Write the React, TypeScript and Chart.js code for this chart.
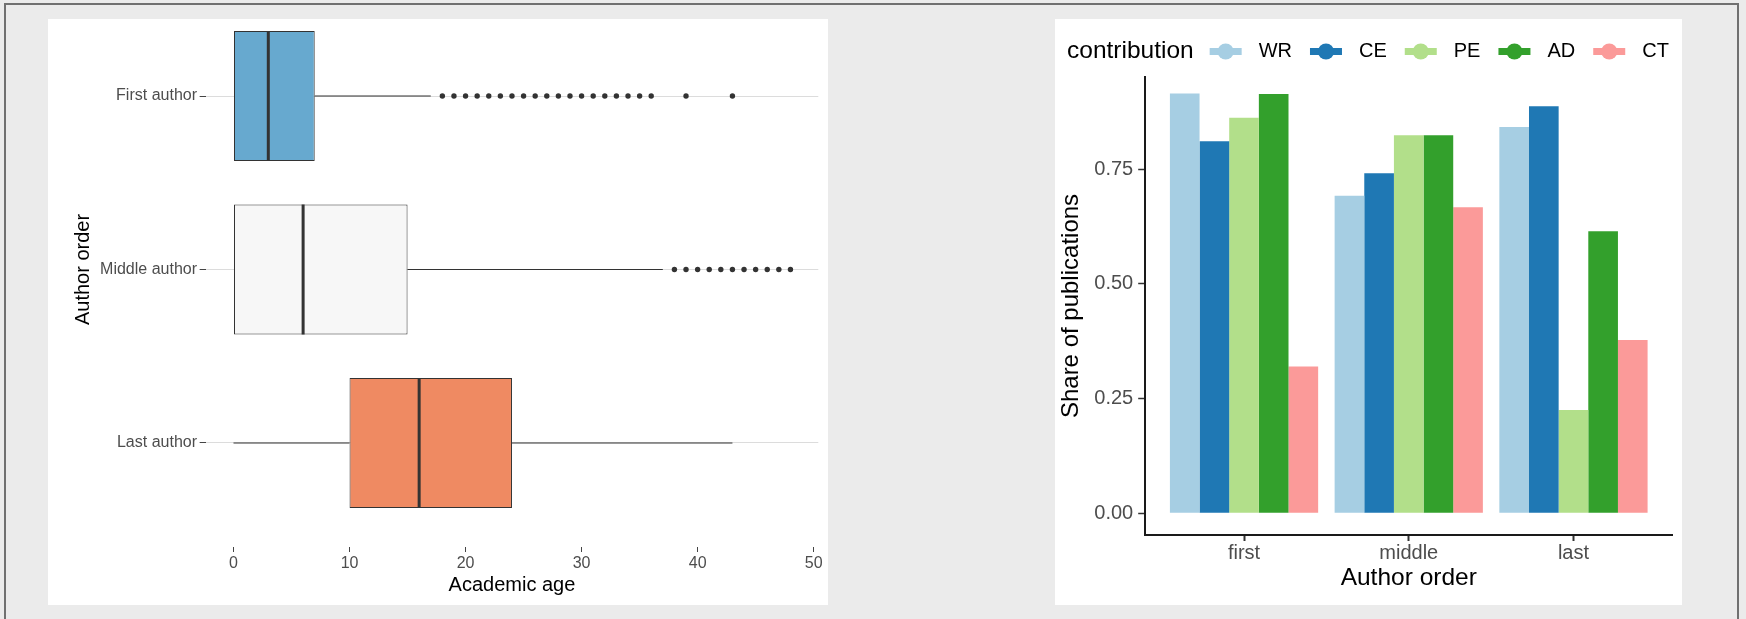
import React, { useEffect, useRef } from 'react';
import { Chart, registerables } from 'chart.js';

Chart.register(...registerables);

const FONT = '"Liberation Sans", Arial, Helvetica, sans-serif';

// ---------- Left chart: academic age by author order (box plot) ----------
const authorOrders = ['First author', 'Middle author', 'Last author'];
const boxQ1 = [0, 0, 10];
const boxMedian = [3, 6, 16];
const boxQ3 = [7, 15, 24];
const whiskerLow = [0, 0, 0];
const whiskerHigh = [17, 37, 43];
const outliersFirst = [18, 19, 20, 21, 22, 23, 24, 25, 26, 27, 28, 29, 30, 31, 32, 33, 34, 35, 36, 39, 43];
const outliersMiddle = [38, 39, 40, 41, 42, 43, 44, 45, 46, 47, 48];
const outliersLast: number[] = [];
const ageTicks = [0, 10, 20, 30, 40, 50];

// ---------- Right chart: share of publications by contribution ----------
const orderCategories = ['first', 'middle', 'last'];
const contributionKeys = ['WR', 'CE', 'PE', 'AD', 'CT'];
const shareWR = [0.915, 0.692, 0.842];
const shareCE = [0.811, 0.741, 0.887];
const sharePE = [0.862, 0.824, 0.225];
const shareAD = [0.914, 0.824, 0.615];
const shareCT = [0.32, 0.667, 0.378];
const shareTicks = [0, 0.25, 0.5, 0.75];

const boxColors = ['#67a9cf', '#f7f7f7', '#ef8a62'];
const contributionColors = ['#a6cee3', '#1f78b4', '#b2df8a', '#33a02c', '#fb9a99'];

function leftConfig(): any {
  const pos = authorOrders.map((_, i) => i + 1);
  const whiskerData: any[] = [];
  pos.forEach((y, i) => {
    if (whiskerLow[i] < boxQ1[i]) {
      whiskerData.push({ x: whiskerLow[i], y }, { x: boxQ1[i], y }, { x: null, y: null });
    }
    if (whiskerHigh[i] > boxQ3[i]) {
      whiskerData.push({ x: boxQ3[i], y }, { x: whiskerHigh[i], y }, { x: null, y: null });
    }
  });
  const outlierSets = [outliersFirst, outliersMiddle, outliersLast];
  const outlierData: any[] = [];
  outlierSets.forEach((arr, i) => arr.forEach((x) => outlierData.push({ x, y: pos[i] })));

  const yTitlePlugin = {
    id: 'leftYTitle',
    afterDraw(chart: any) {
      const ctx = chart.ctx;
      const ys = chart.scales.y;
      const cy = (ys.getPixelForValue(0.4) + ys.getPixelForValue(3.6)) / 2;
      ctx.save();
      ctx.font = `20px ${FONT}`;
      ctx.fillStyle = '#000000';
      ctx.textAlign = 'center';
      ctx.textBaseline = 'middle';
      ctx.translate(35, cy);
      ctx.rotate(-Math.PI / 2);
      ctx.fillText('Author order', 0, 0);
      ctx.restore();
    },
  };

  return {
    type: 'bar',
    data: {
      datasets: [
        {
          type: 'scatter',
          label: 'median',
          data: pos.map((y, i) => ({ x: boxMedian[i], y })),
          pointStyle: 'line',
          pointRotation: 90,
          pointRadius: 65,
          pointBorderWidth: 3,
          pointBorderColor: '#333333',
          pointBackgroundColor: '#333333',
          order: 0,
        },
        {
          type: 'bar',
          label: 'box',
          indexAxis: 'y',
          data: pos.map((y, i) => ({ x: [boxQ1[i], boxQ3[i]], y })),
          backgroundColor: boxColors,
          borderColor: '#333333',
          borderWidth: 1,
          borderSkipped: false,
          barPercentage: 0.75,
          categoryPercentage: 1,
          order: 1,
        },
        {
          type: 'line',
          label: 'whiskers',
          data: whiskerData,
          borderColor: '#333333',
          borderWidth: 1.1,
          pointRadius: 0,
          spanGaps: false,
          fill: false,
          order: 2,
        },
        {
          type: 'scatter',
          label: 'outliers',
          data: outlierData,
          pointRadius: 2.7,
          pointBackgroundColor: '#333333',
          pointBorderWidth: 0,
          order: 3,
        },
      ],
    },
    options: {
      responsive: false,
      animation: false,
      events: [],
      layout: { autoPadding: false, padding: { top: 0, right: 9.7, bottom: 0, left: 0 } },
      plugins: { legend: { display: false }, tooltip: { enabled: false }, title: { display: false } },
      scales: {
        x: {
          type: 'linear',
          position: 'bottom',
          min: -2.4,
          max: 50.4,
          offset: false,
          afterBuildTicks: (s: any) => {
            s.ticks = ageTicks.map((v) => ({ value: v }));
          },
          afterFit: (s: any) => {
            s.height = 58;
            s.paddingLeft = 0;
            s.paddingRight = 0;
          },
          grid: {
            display: true,
            drawOnChartArea: false,
            drawTicks: true,
            tickLength: 5,
            tickColor: '#444444',
            tickWidth: 1,
            offset: false,
          },
          border: { display: false },
          ticks: {
            color: '#4d4d4d',
            font: { family: FONT, size: 16 },
            padding: 1.5,
            maxRotation: 0,
            autoSkip: false,
          },
          title: {
            display: true,
            text: 'Academic age',
            color: '#000000',
            font: { family: FONT, size: 20 },
            padding: { top: 0, bottom: 7.5 },
          },
        },
        y: {
          type: 'linear',
          position: 'left',
          reverse: true,
          min: 0.556,
          max: 3.6,
          offset: false,
          afterBuildTicks: (s: any) => {
            s.ticks = authorOrders.map((_, i) => ({ value: i + 1 }));
          },
          afterFit: (s: any) => {
            s.width = 157.65;
            s.paddingTop = 0;
            s.paddingBottom = 0;
          },
          grid: {
            display: true,
            drawOnChartArea: true,
            color: '#dcdcdc',
            lineWidth: 1,
            drawTicks: true,
            tickLength: 6,
            tickColor: '#444444',
            tickWidth: 1,
            offset: false,
          },
          border: { display: false },
          ticks: {
            color: '#4d4d4d',
            font: { family: FONT, size: 16 },
            padding: 2.65,
            autoSkip: false,
            callback: (_v: any, index: number) => authorOrders[index],
          },
          title: { display: false },
        },
      },
    },
    plugins: [yTitlePlugin],
  };
}

function rightConfig(): any {
  const series = [shareWR, shareCE, sharePE, shareAD, shareCT];

  const legendPlugin = {
    id: 'inlineLegend',
    afterDraw(chart: any) {
      const ctx = chart.ctx;
      const cy = 32.5;
      ctx.save();
      ctx.textBaseline = 'middle';
      ctx.textAlign = 'left';
      ctx.fillStyle = '#000000';
      ctx.font = `24.5px ${FONT}`;
      const title = 'contribution';
      ctx.fillText(title, 12, cy);
      let x = 12 + ctx.measureText(title).width + 16;
      chart.data.datasets.forEach((ds: any) => {
        const col = ds.backgroundColor;
        ctx.strokeStyle = col;
        ctx.lineWidth = 7;
        ctx.lineCap = 'butt';
        ctx.beginPath();
        ctx.moveTo(x, cy);
        ctx.lineTo(x + 32, cy);
        ctx.stroke();
        ctx.fillStyle = col;
        ctx.beginPath();
        ctx.arc(x + 16, cy, 8, 0, Math.PI * 2);
        ctx.fill();
        x += 32 + 17;
        ctx.fillStyle = '#000000';
        ctx.font = `20px ${FONT}`;
        ctx.fillText(ds.label, x, cy);
        x += ctx.measureText(ds.label).width + 18;
      });
      ctx.restore();
    },
  };

  return {
    type: 'bar',
    data: {
      datasets: contributionKeys.map((k, j) => ({
        label: k,
        data: orderCategories.map((_, i) => ({ x: i + 1, y: series[j][i] })),
        backgroundColor: contributionColors[j],
        borderWidth: 0,
        categoryPercentage: 0.9,
        barPercentage: 1.0,
      })),
    },
    options: {
      responsive: false,
      animation: false,
      events: [],
      layout: { autoPadding: false, padding: { top: 58, right: 9.7, bottom: 0, left: 0 } },
      plugins: { legend: { display: false }, tooltip: { enabled: false }, title: { display: false } },
      scales: {
        x: {
          type: 'linear',
          position: 'bottom',
          min: 0.4,
          max: 3.6,
          offset: false,
          afterBuildTicks: (s: any) => {
            s.ticks = orderCategories.map((_, i) => ({ value: i + 1 }));
          },
          afterFit: (s: any) => {
            s.height = 70;
            s.paddingLeft = 0;
            s.paddingRight = 0;
          },
          grid: {
            display: true,
            drawOnChartArea: false,
            drawTicks: true,
            tickLength: 6,
            tickColor: '#333333',
            tickWidth: 2,
            offset: false,
          },
          border: { display: true, color: '#1a1a1a', width: 2 },
          ticks: {
            color: '#4d4d4d',
            font: { family: FONT, size: 20 },
            padding: 0,
            maxRotation: 0,
            autoSkip: false,
            callback: (_v: any, index: number) => orderCategories[index],
          },
          title: {
            display: true,
            text: 'Author order',
            color: '#000000',
            font: { family: FONT, size: 24.5 },
            padding: { top: 0, bottom: 12 },
          },
        },
        y: {
          type: 'linear',
          position: 'left',
          min: -0.0473,
          max: 0.951,
          afterBuildTicks: (s: any) => {
            s.ticks = shareTicks.map((v) => ({ value: v }));
          },
          afterFit: (s: any) => {
            s.width = 90.2;
            s.paddingTop = 0;
            s.paddingBottom = 0;
          },
          grid: {
            display: true,
            drawOnChartArea: false,
            drawTicks: true,
            tickLength: 7,
            tickColor: '#333333',
            tickWidth: 1.5,
          },
          border: { display: true, color: '#1a1a1a', width: 2 },
          ticks: {
            color: '#4d4d4d',
            font: { family: FONT, size: 20 },
            padding: 5,
            autoSkip: false,
            callback: (v: any) => Number(v).toFixed(2),
          },
          title: {
            display: true,
            text: 'Share of publications',
            color: '#000000',
            font: { family: FONT, size: 24 },
            padding: { top: 2, bottom: 0 },
          },
        },
      },
    },
    plugins: [legendPlugin],
  };
}

export default function App() {
  const leftRef = useRef<HTMLCanvasElement>(null);
  const rightRef = useRef<HTMLCanvasElement>(null);

  useEffect(() => {
    const c1 = new Chart(leftRef.current as HTMLCanvasElement, leftConfig());
    const c2 = new Chart(rightRef.current as HTMLCanvasElement, rightConfig());
    return () => {
      c1.destroy();
      c2.destroy();
    };
  }, []);

  return (
    <div
      style={{
        position: 'fixed',
        left: 0,
        top: 0,
        width: 1746,
        height: 619,
        overflow: 'hidden',
        background: '#ebebeb',
      }}
    >
      <div
        style={{
          position: 'absolute',
          left: 4,
          top: 3,
          width: 1731,
          height: 700,
          border: '2px solid #707070',
          boxSizing: 'content-box',
        }}
      />
      <div style={{ position: 'absolute', left: 48, top: 19, width: 780, height: 586, background: '#ffffff' }}>
        <canvas ref={leftRef} width={780} height={586} style={{ display: 'block', width: 780, height: 586 }} />
      </div>
      <div style={{ position: 'absolute', left: 1055, top: 19, width: 627, height: 586, background: '#ffffff' }}>
        <canvas ref={rightRef} width={627} height={586} style={{ display: 'block', width: 627, height: 586 }} />
      </div>
    </div>
  );
}
